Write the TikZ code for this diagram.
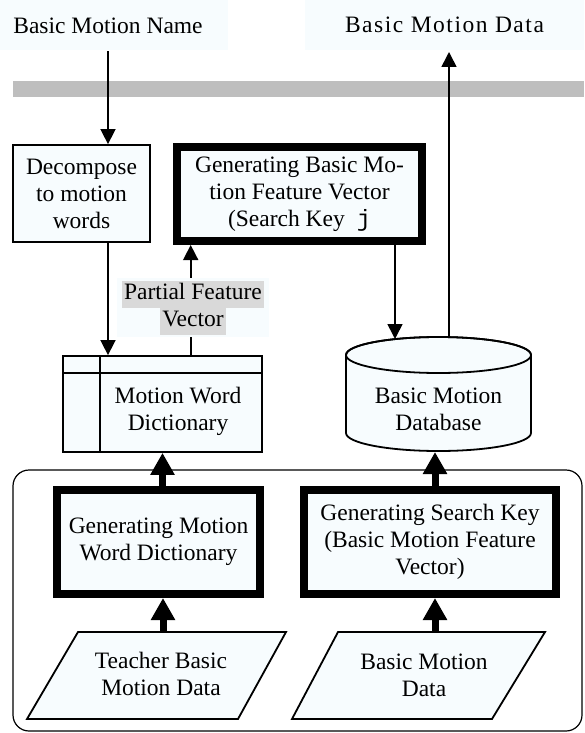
\documentclass[tikz,border=0pt]{standalone}
\usepackage{fontspec}
\setmainfont{Liberation Serif}
\setmonofont{Liberation Mono}
\usetikzlibrary{arrows.meta,calc}
\definecolor{boxfill}{RGB}{247,252,254}
\definecolor{bargray}{RGB}{190,190,190}
\definecolor{hlgray}{RGB}{217,217,217}
\newcommand{\hlbox}[1]{{\fboxsep=0pt\colorbox{hlgray}{\strut\hspace{2pt}#1\hspace{2pt}}}}
\begin{document}
\begin{tikzpicture}[x=1pt,y=-1pt,
 font=\fontsize{23.5}{27}\selectfont,
 thinbox/.style={draw, line width=1.8pt, fill=boxfill, align=center, inner sep=0pt},
 thickbox/.style={draw, line width=8pt, fill=boxfill, align=center, inner sep=0pt},
 thinarr/.style={line width=1.6pt, -{Triangle[width=15pt,length=15pt]}},
 thickarr/.style={line width=7pt, -{Triangle[width=23pt,length=22pt]}},
 txt/.style={align=center, inner sep=0pt},
 para/.style={draw, line width=1.8pt, fill=boxfill, line join=miter}
]
\useasboundingbox (0,0) rectangle (584,733);
% top label backgrounds and bar
\fill[boxfill] (0,0) rectangle (228,50);
\fill[boxfill] (305,0) rectangle (584,50);
\fill[bargray] (13,81) rectangle (584,97);
\node[txt, minimum height=50pt] (bmname) at (108,26) {Basic Motion Name};
\node[txt] (bmdata) at (444.5,25) {\addfontfeature{LetterSpace=6.5}Basic Motion Data};
% frame
\draw[line width=1.2pt, rounded corners=16pt] (13,470) rectangle (582,731);
% boxes
\node[thinbox, minimum width=137pt, minimum height=97pt] (decomp) at (81.5,193.5) {Decompose\\to motion\\words};
\node[thickbox, minimum width=245pt, minimum height=94pt] (genfv) at (299.5,194) {Generating Basic Mo-\\tion Feature Vector\\(Search Key\hspace{12pt}\texttt{j}};
\node[thinbox, minimum width=199pt, minimum height=96pt] (dict) at (162.5,404) {};
\draw[line width=1.8pt] ($(dict.north west)+(0,18)$) -- ($(dict.north east)+(0,18)$);
\draw[line width=1.8pt] ([xshift=38pt]dict.north west) -- ([xshift=38pt]dict.south west);
\node[txt] (dicttxt) at (178,411.5) {Motion Word\\Dictionary};
% database
\draw[line width=1.8pt, fill=boxfill] (346,355) -- (346,433)
  arc[start angle=180, end angle=360, x radius=92.5pt, y radius=18pt] -- (531,355)
  arc[start angle=0, end angle=180, x radius=92.5pt, y radius=18pt] -- cycle;
\draw[line width=1.8pt] (438.5,355) ellipse[x radius=92.5pt, y radius=18pt];
\node[txt] (dbtxt) at (438.5,409.5) {Basic Motion\\Database};
% lower boxes
\node[thickbox, minimum width=203pt, minimum height=104pt] (genmwd) at (158.5,542) {Generating Motion\\Word Dictionary};
\node[thickbox, minimum width=252pt, minimum height=104pt] (gensk) at (430,542) {Generating Search Key\\(Basic Motion Feature\\Vector)};
\draw[para] (78,632) -- (286,632) -- (238,719) -- (27,719) -- cycle;
\node[txt] (teacher) at (161,674) {Teacher Basic\\Motion Data};
\draw[para] (338,632) -- (545,632) -- (492,719) -- (292,719) -- cycle;
\node[txt] (bmd) at (424,675) {Basic Motion\\Data};
% connectors
\draw[thinarr] (bmname.south) -- (bmname.south |- decomp.north);
\draw[thinarr] (bmname.south |- decomp.south) -- (bmname.south |- dict.north);
\coordinate (xp) at (190.7,0);
\draw[thinarr] (xp |- dict.north) -- (xp |- genfv.south);
\coordinate (dbin) at (395,339);
\draw[thinarr] (dbin |- genfv.south) -- (dbin);
\coordinate (dbout) at (449,337);
\coordinate (datain) at (449,52);
\draw[thinarr] (dbout) -- (datain);
\draw[thickarr] (dict.south |- genmwd.north) -- (dict.south);
\coordinate (dbbot) at (435,452);
\draw[thickarr] (dbbot |- gensk.north) -- (dbbot);
\coordinate (teachtop) at (163,632);
\draw[thickarr] (teachtop) -- (teachtop |- genmwd.south);
\coordinate (bmdtop) at (435,632);
\draw[thickarr] (bmdtop) -- (bmdtop |- gensk.south);
% partial feature vector label
\node[fill=boxfill, inner sep=0pt, minimum width=152pt, minimum height=59pt, align=center] (pfv) at (193,307.5) {\hlbox{Partial Feature}\\\hlbox{Vector}};
\end{tikzpicture}
\end{document}
